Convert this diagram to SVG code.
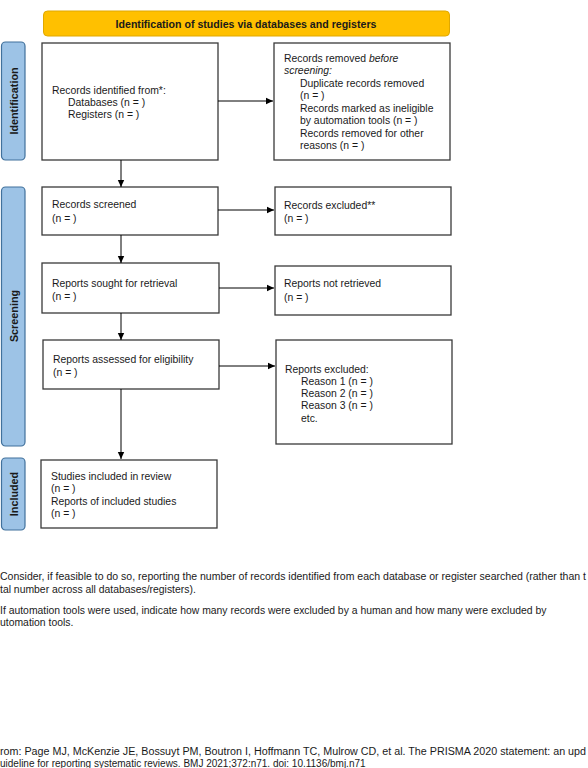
<svg xmlns="http://www.w3.org/2000/svg" width="588" height="768" viewBox="0 0 588 768">
<style>
text{font-family:"Liberation Sans",Arial,sans-serif;fill:#1a1a1a}
.t{font-size:10.4px}
.fn{font-size:10.4px}
.cit{font-size:10px}
.box{fill:#fff;stroke:#3a3a3a;stroke-width:1.3}
.side{fill:#9dc3e6;stroke:#41719c;stroke-width:1.2}
.sl{font-size:10.8px;font-weight:bold;text-anchor:middle}
.c{stroke:#000;stroke-width:1;fill:none;marker-end:url(#ah)}
</style>
<defs>
<marker id="ah" markerWidth="8" markerHeight="8" refX="7" refY="4" orient="auto" markerUnits="userSpaceOnUse">
<path d="M0,0.8 L7,4 L0,7.2 Z" fill="#000"/>
</marker>
</defs>
<rect width="588" height="768" fill="#fff"/>
<g id="header">
<rect x="43.5" y="11" width="406" height="25" rx="4" fill="#ffc000" stroke="#e0a800" stroke-width="1"/>
<text x="246" y="27.5" font-size="10.6" font-weight="bold" text-anchor="middle">Identification of studies via databases and registers</text>
</g>
<g id="label-identification">
<rect x="1.5" y="42" width="23.5" height="118" rx="4" class="side"/>
<text class="sl" transform="translate(17.5,101) rotate(-90)">Identification</text>
</g>
<g id="label-screening">
<rect x="1.5" y="187" width="23.5" height="259" rx="4" class="side"/>
<text class="sl" transform="translate(17.5,316) rotate(-90)">Screening</text>
</g>
<g id="label-included">
<rect x="1.5" y="458" width="23.5" height="72" rx="4" class="side"/>
<text class="sl" transform="translate(17.5,494) rotate(-90)">Included</text>
</g>
<g id="records-identified">
<rect x="42" y="43" width="176" height="117" class="box"/>
<text class="t" x="52" y="94">Records identified from*:</text>
<text class="t" x="68" y="106">Databases (n = )</text>
<text class="t" x="68" y="118">Registers (n = )</text>
</g>
<g id="records-removed">
<rect x="274" y="43" width="176" height="117" class="box"/>
<text class="t" x="284" y="62">Records removed <tspan font-style="italic">before</tspan></text>
<text class="t" x="284" y="74" font-style="italic">screening:</text>
<text class="t" x="300" y="87">Duplicate records removed</text>
<text class="t" x="300" y="99">(n = )</text>
<text class="t" x="300" y="112">Records marked as ineligible</text>
<text class="t" x="300" y="124">by automation tools (n = )</text>
<text class="t" x="300" y="137">Records removed for other</text>
<text class="t" x="300" y="149">reasons (n = )</text>
</g>
<g id="records-screened">
<rect x="42" y="187" width="176" height="48" class="box"/>
<text class="t" x="52" y="208">Records screened</text>
<text class="t" x="52" y="222">(n = )</text>
</g>
<g id="records-excluded">
<rect x="275" y="187" width="176" height="48" class="box"/>
<text class="t" x="284" y="209">Records excluded**</text>
<text class="t" x="284" y="222">(n = )</text>
</g>
<g id="reports-sought">
<rect x="42" y="263" width="177" height="50" class="box"/>
<text class="t" x="52" y="287">Reports sought for retrieval</text>
<text class="t" x="52" y="300">(n = )</text>
</g>
<g id="reports-not-retrieved">
<rect x="275" y="266" width="176" height="49" class="box"/>
<text class="t" x="284" y="287">Reports not retrieved</text>
<text class="t" x="284" y="301">(n = )</text>
</g>
<g id="reports-assessed">
<rect x="43" y="340" width="176" height="49" class="box"/>
<text class="t" x="53" y="363">Reports assessed for eligibility</text>
<text class="t" x="53" y="376">(n = )</text>
</g>
<g id="reports-excluded">
<rect x="276" y="340" width="176" height="104" class="box"/>
<text class="t" x="285" y="373">Reports excluded:</text>
<text class="t" x="301" y="385">Reason 1 (n = )</text>
<text class="t" x="301" y="397">Reason 2 (n = )</text>
<text class="t" x="301" y="409">Reason 3 (n = )</text>
<text class="t" x="301" y="422">etc.</text>
</g>
<g id="studies-included">
<rect x="41" y="460" width="176" height="68" class="box"/>
<text class="t" x="51" y="480">Studies included in review</text>
<text class="t" x="51" y="492">(n = )</text>
<text class="t" x="51" y="505">Reports of included studies</text>
<text class="t" x="51" y="517">(n = )</text>
</g>
<g id="connectors">
<line class="c" x1="218" y1="101" x2="273" y2="101"/>
<line class="c" x1="121" y1="160" x2="121" y2="187"/>
<line class="c" x1="218" y1="210" x2="274" y2="210"/>
<line class="c" x1="121" y1="235" x2="121" y2="263"/>
<line class="c" x1="219" y1="288" x2="274" y2="288"/>
<line class="c" x1="121" y1="313" x2="121" y2="340"/>
<line class="c" x1="219" y1="366" x2="275" y2="366"/>
<line class="c" x1="121" y1="389" x2="121" y2="459"/>
</g>
<g id="footnotes">
<text class="fn" x="0" y="580" textLength="586" lengthAdjust="spacingAndGlyphs">Consider, if feasible to do so, reporting the number of records identified from each database or register searched (rather than t</text>
<text class="fn" x="0" y="593">tal number across all databases/registers).</text>
<text class="fn" x="0" y="614">If automation tools were used, indicate how many records were excluded by a human and how many were excluded by</text>
<text class="fn" x="0" y="626">utomation tools.</text>
<text class="cit" x="0" y="755" textLength="586" lengthAdjust="spacingAndGlyphs">rom:  Page MJ, McKenzie JE, Bossuyt PM, Boutron I, Hoffmann TC, Mulrow CD, et al. The PRISMA 2020 statement: an upd</text>
<text class="cit" x="0" y="766.5">uideline for reporting systematic reviews. BMJ 2021;372:n71. doi: 10.1136/bmj.n71</text>
</g>
</svg>
